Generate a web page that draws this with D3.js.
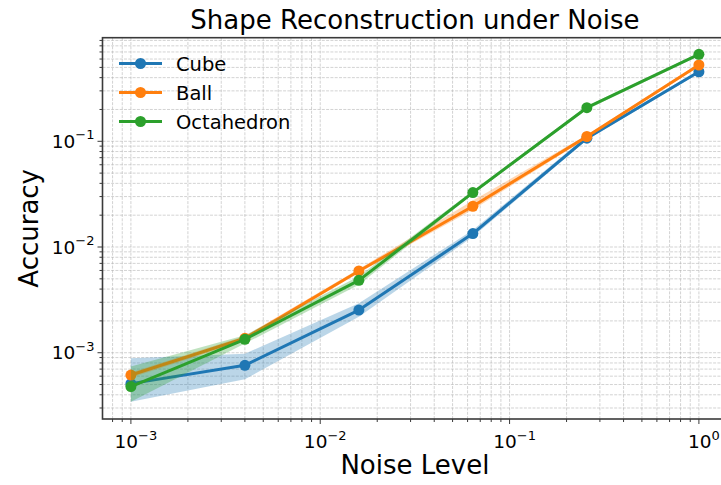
<!DOCTYPE html>
<html>
<head>
<meta charset="utf-8">
<script src="https://cdn.jsdelivr.net/npm/d3@7"></script>
<style>
  body { margin: 0; background: #fff; }
  svg { display: block; font-family: "DejaVu Sans", sans-serif; }
</style>
</head>
<body>
<svg id="chart" width="721" height="485"></svg>
<script>
// noise levels (x)
const noiseLevels = [0.001, 0.004, 0.016, 0.064, 0.256, 1.0];

// mean accuracy per shape
const cubeMean = [0.00051, 0.00076, 0.00253, 0.0134, 0.107, 0.455];
const ballMean = [0.000615, 0.00137, 0.00593, 0.0243, 0.111, 0.527];
const octaMean = [0.000478, 0.00134, 0.00484, 0.0327, 0.208, 0.665];

// band bounds
const cubeLow  = [0.000343, 0.00056, 0.00219, 0.0125, 0.103, 0.44];
const cubeHigh = [0.000885, 0.00098, 0.00293, 0.0145, 0.112, 0.47];
const ballLow  = [0.00058, 0.00130, 0.0057, 0.0225, 0.107, 0.51];
const ballHigh = [0.00065, 0.00144, 0.0062, 0.0275, 0.115, 0.545];
const octaLow  = [0.000343, 0.00122, 0.00440, 0.0315, 0.200, 0.645];
const octaHigh = [0.00074, 0.00146, 0.00530, 0.0340, 0.216, 0.685];

const seriesNames = ['Cube', 'Ball', 'Octahedron'];
const seriesColors = ['#1f77b4', '#ff7f0e', '#2ca02c'];

const series = [
    { name: seriesNames[0], color: seriesColors[0], mean: cubeMean, low: cubeLow, high: cubeHigh },
    { name: seriesNames[1], color: seriesColors[1], mean: ballMean, low: ballLow, high: ballHigh },
    { name: seriesNames[2], color: seriesColors[2], mean: octaMean, low: octaLow, high: octaHigh }
];

const svg = d3.select('#chart');
const plot = { left: 102.5, right: 727.3, top: 37.7, bottom: 419 };

const x = d3.scaleLog()
    .domain([Math.pow(10, -3.15), Math.pow(10, 0.15)])
    .range([plot.left, plot.right]);
const y = d3.scaleLog()
    .domain([Math.pow(10, -3.627), Math.pow(10, -0.02)])
    .range([plot.bottom, plot.top]);

// tick values
const majorX = [1e-3, 1e-2, 1e-1, 1];
const majorY = [1e-3, 1e-2, 1e-1];
function minorTicks(scale) {
    const [a, b] = scale.domain();
    const out = [];
    for (let e = Math.floor(Math.log10(a)); e <= Math.ceil(Math.log10(b)); e++) {
        for (let m = 2; m <= 9; m++) {
            const v = m * Math.pow(10, e);
            if (v >= a && v <= b) out.push(v);
        }
    }
    return out;
}
const minorX = minorTicks(x);
const minorY = minorTicks(y);

const clipId = 'plot-clip';
svg.append('defs').append('clipPath').attr('id', clipId)
    .append('rect')
    .attr('x', plot.left).attr('y', plot.top)
    .attr('width', plot.right - plot.left)
    .attr('height', plot.bottom - plot.top);

// grid (major + minor)
const grid = svg.append('g').attr('class', 'grid')
    .attr('stroke', '#b0b0b0')
    .attr('stroke-opacity', 0.7)
    .attr('stroke-width', 0.8)
    .attr('stroke-dasharray', '3,1.3');

grid.selectAll('.vx')
    .data(majorX.concat(minorX).filter(v => x(v) >= plot.left && x(v) <= plot.right))
    .join('line')
    .attr('x1', d => x(d)).attr('x2', d => x(d))
    .attr('y1', plot.top).attr('y2', plot.bottom);

grid.selectAll('.hy')
    .data(majorY.concat(minorY))
    .join('line')
    .attr('x1', plot.left).attr('x2', plot.right)
    .attr('y1', d => y(d)).attr('y2', d => y(d));

// series
const marks = svg.append('g').attr('clip-path', `url(#${clipId})`);

const area = d3.area()
    .x((d, i) => x(noiseLevels[i]))
    .y0(d => y(d[0]))
    .y1(d => y(d[1]));
const line = d3.line()
    .x((d, i) => x(noiseLevels[i]))
    .y(d => y(d));

series.forEach(s => {
    const g = marks.append('g').attr('class', 'series');
    g.append('path')
        .datum(s.low.map((lo, i) => [lo, s.high[i]]))
        .attr('d', area)
        .attr('fill', s.color)
        .attr('fill-opacity', 0.3);
    g.append('path')
        .datum(s.mean)
        .attr('d', line)
        .attr('fill', 'none')
        .attr('stroke', s.color)
        .attr('stroke-width', 3)
        .attr('stroke-linejoin', 'round');
    g.selectAll('circle')
        .data(s.mean)
        .join('circle')
        .attr('cx', (d, i) => x(noiseLevels[i]))
        .attr('cy', d => y(d))
        .attr('r', 5.5)
        .attr('fill', s.color);
});

// spines
const spineColor = '#3a3a3a';
svg.append('rect')
    .attr('x', plot.left).attr('y', plot.top)
    .attr('width', plot.right - plot.left)
    .attr('height', plot.bottom - plot.top)
    .attr('fill', 'none')
    .attr('stroke', spineColor)
    .attr('stroke-width', 1.6);

// ticks
const ticks = svg.append('g').attr('stroke', spineColor).attr('stroke-width', 1);
ticks.selectAll('.mx').data(majorX).join('line')
    .attr('x1', d => x(d)).attr('x2', d => x(d))
    .attr('y1', plot.bottom).attr('y2', plot.bottom + 5);
ticks.selectAll('.nx').data(minorX).join('line')
    .attr('x1', d => x(d)).attr('x2', d => x(d))
    .attr('y1', plot.bottom).attr('y2', plot.bottom + 3);
ticks.selectAll('.my').data(majorY).join('line')
    .attr('x1', plot.left - 5).attr('x2', plot.left)
    .attr('y1', d => y(d)).attr('y2', d => y(d));
ticks.selectAll('.ny').data(minorY).join('line')
    .attr('x1', plot.left - 3).attr('x2', plot.left)
    .attr('y1', d => y(d)).attr('y2', d => y(d));

// tick labels 10^n
function powLabel(sel, v) {
    const e = Math.round(Math.log10(v));
    sel.append('tspan').text('10');
    sel.append('tspan')
        .attr('dy', -8.5)
        .attr('font-size', 13)
        .text(e < 0 ? '\u2212' + (-e) : String(e));
}

svg.append('g').selectAll('text').data(majorX).join('text')
    .attr('x', d => x(d))
    .attr('y', plot.bottom + 29)
    .attr('text-anchor', 'middle')
    .attr('font-size', 18.5)
    .attr('fill', '#000')
    .each(function (d) { powLabel(d3.select(this), d); })
    .attr('dx', 5);

svg.append('g').selectAll('text').data(majorY).join('text')
    .attr('x', plot.left - 8)
    .attr('y', d => y(d) + 6.5)
    .attr('text-anchor', 'end')
    .attr('font-size', 18.5)
    .attr('fill', '#000')
    .each(function (d) { powLabel(d3.select(this), d); });

// axis titles
svg.append('text')
    .attr('x', (plot.left + plot.right) / 2)
    .attr('y', 474)
    .attr('text-anchor', 'middle')
    .attr('font-size', 26)
    .attr('fill', '#000')
    .text('Noise Level');

svg.append('text')
    .attr('transform', `translate(38,${(plot.top + plot.bottom) / 2}) rotate(-90)`)
    .attr('text-anchor', 'middle')
    .attr('font-size', 26)
    .attr('fill', '#000')
    .text('Accuracy');

svg.append('text')
    .attr('x', (plot.left + plot.right) / 2)
    .attr('y', 29)
    .attr('text-anchor', 'middle')
    .attr('font-size', 26)
    .attr('fill', '#000')
    .text('Shape Reconstruction under Noise');

// legend
const legend = svg.append('g').attr('transform', 'translate(119,63.5)');
const rows = legend.selectAll('g').data(series).join('g')
    .attr('transform', (d, i) => `translate(0,${i * 29})`);
rows.append('line')
    .attr('x1', 0).attr('x2', 43)
    .attr('stroke', d => d.color)
    .attr('stroke-width', 3);
rows.append('circle')
    .attr('cx', 21.5).attr('r', 5.5)
    .attr('fill', d => d.color);
rows.append('text')
    .attr('x', 57)
    .attr('y', 7)
    .attr('font-size', 19.5)
    .attr('fill', '#000')
    .text(d => d.name);
</script>
</body>
</html>
